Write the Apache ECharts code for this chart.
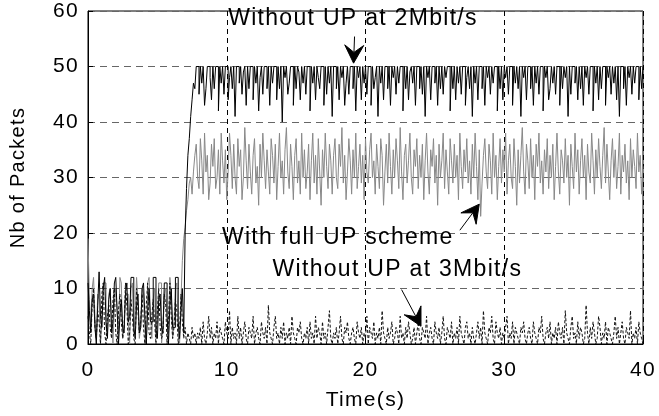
<!DOCTYPE html>
<html>
<head>
<meta charset="utf-8">
<script src="https://cdn.jsdelivr.net/npm/echarts@6/dist/echarts.min.js"></script>
<style>
  html, body { margin: 0; padding: 0; background: #fff; }
  #chart { width: 659px; height: 416px; }
</style>
</head>
<body>
<div id="chart"></div>
<script>
// Sampling period of the traces (s)
const dt = 0.1;

// Queue occupancy, without UP at 2 Mbit/s
const noUp2M = [
  11, 6, 2, 8, 9, 3, 0, 7, 13, 5, 3, 10, 12, 4, 1, 8, 10, 2, 4, 11,
  12, 6, 0, 5, 8, 3, 2, 9, 11, 4, 5, 12, 12, 3, 1, 7, 9, 2, 3, 10,
  11, 5, 0, 6, 10, 4, 4, 12, 12, 2, 1, 8, 9, 3, 2, 11, 11, 5, 0, 7,
  10, 3, 3, 12, 12, 4, 1, 6, 10, 2, 20, 28, 34, 37, 41, 44, 47, 46,
  50, 50, 45, 50, 47, 50, 43, 46, 50, 50, 48, 44, 50, 46, 50, 50, 42, 50, 47, 50,
  45, 50, 50, 44, 48, 50, 46, 50, 41, 50, 50, 47, 50, 45, 49, 50, 43, 50, 46, 50,
  50, 44, 50, 47, 50, 42, 48, 50, 45, 50, 50, 46, 50, 43, 50, 47, 50, 50, 44, 50,
  46, 50, 40, 50, 48, 50, 45, 47, 50, 50, 43, 50, 46, 50, 49, 44, 50, 47, 50, 45,
  50, 50, 42, 50, 47, 50, 44, 50, 48, 46, 50, 50, 43, 50, 45, 50, 47, 50, 41, 50,
  50, 46, 50, 44, 50, 48, 50, 43, 47, 50, 45, 50, 50, 46, 50, 42, 50, 48, 50, 44,
  50, 47, 50, 45, 50, 50, 43, 50, 46, 48, 50, 41, 50, 47, 50, 44, 50, 50, 46, 50,
  43, 50, 48, 50, 45, 50, 47, 50, 50, 42, 50, 46, 50, 44, 49, 50, 47, 50, 43, 50,
  50, 46, 50, 45, 50, 41, 50, 48, 50, 44, 50, 50, 47, 50, 43, 50, 46, 50, 45, 50,
  48, 50, 50, 42, 50, 46, 50, 44, 50, 47, 50, 45, 50, 50, 43, 48, 50, 46, 50, 41,
  50, 47, 50, 44, 50, 50, 46, 50, 43, 50, 48, 50, 45, 50, 47, 50, 50, 42, 50, 46,
  50, 44, 50, 48, 50, 45, 50, 50, 43, 50, 47, 50, 46, 50, 41, 50, 48, 50, 44, 50,
  50, 46, 50, 43, 50, 47, 50, 45, 50, 50, 42, 50, 48, 50, 44, 46, 50, 47, 50, 45,
  50, 50, 43, 50, 46, 50, 48, 50, 41, 50, 45, 50, 50, 47, 50, 44, 50, 46, 50, 43,
  50, 48, 50, 45, 50, 50, 42, 50, 47, 50, 44, 50, 46, 50, 50, 43, 50, 48, 50, 45,
  50, 47, 50, 44, 50, 41, 50, 50, 46, 50, 43, 50, 48, 50, 45, 50, 47, 50, 50, 44,
  50, 46, 50
];

// Queue occupancy, with the full UP scheme
const fullUp = [
  19, 8, 3, 10, 12, 5, 1, 9, 8, 0, 4, 11, 11, 3, 2, 9, 10, 4, 0, 7,
  10, 6, 2, 12, 11, 1, 3, 9, 9, 4, 0, 10, 11, 2, 5, 12, 8, 1, 3, 10,
  9, 3, 0, 11, 12, 6, 1, 8, 10, 2, 4, 11, 11, 0, 3, 9, 10, 5, 2, 12,
  9, 1, 4, 10, 11, 3, 0, 8, 15, 19, 21, 24, 26, 29, 30, 27, 31, 34,
  36, 30, 28, 37, 33, 27, 38, 31, 34, 26, 29, 36, 32, 37, 28, 30, 35, 27, 38, 33,
  29, 35, 26, 31, 38, 34, 28, 36, 30, 27, 37, 32, 35, 26, 30, 39, 33, 28, 36, 31,
  27, 34, 37, 29, 32, 25, 36, 30, 38, 33, 28, 35, 31, 27, 37, 34, 29, 36, 26, 32,
  38, 30, 33, 27, 35, 39, 31, 28, 36, 32, 26, 34, 37, 29, 33, 27, 38, 30, 35, 28,
  31, 36, 26, 33, 38, 29, 34, 27, 37, 31, 25, 35, 30, 38, 32, 28, 36, 33, 27, 34,
  37, 30, 28, 36, 32, 39, 29, 34, 26, 31, 37, 33, 27, 35, 30, 38, 28, 32, 36, 29,
  34, 26, 37, 31, 29, 35, 38, 30, 33, 27, 36, 32, 28, 37, 34, 25, 31, 36, 29, 38,
  32, 27, 35, 30, 37, 33, 28, 39, 31, 26, 34, 36, 29, 33, 38, 30, 27, 35, 32, 37,
  28, 34, 30, 36, 26, 33, 38, 31, 27, 35, 32, 37, 29, 34, 25, 36, 30, 33, 38, 28,
  35, 31, 27, 37, 33, 29, 36, 30, 34, 26, 38, 32, 28, 35, 31, 37, 29, 33, 27, 36,
  30, 38, 32, 26, 35, 23, 29, 34, 37, 31, 28, 36, 33, 27, 38, 30, 34, 26, 32, 37,
  29, 35, 31, 38, 27, 33, 36, 30, 28, 37, 32, 25, 35, 29, 34, 39, 31, 27, 36, 33,
  28, 37, 30, 34, 26, 36, 32, 38, 29, 33, 27, 35, 31, 37, 28, 34, 30, 36, 26, 32,
  38, 31, 27, 35, 33, 29, 37, 30, 34, 25, 36, 32, 28, 38, 31, 35, 27, 33, 37, 30,
  34, 26, 36, 31, 29, 38, 33, 27, 35, 30, 37, 32, 28, 34, 39, 29, 36, 31, 26, 33,
  37, 30, 35, 28, 32, 38, 27, 34, 31, 36, 29, 33, 26, 37, 30, 35, 32, 28, 38, 31,
  34, 27, 32
];

// Queue occupancy, without UP at 3 Mbit/s
const noUp3M = [
  5, 2, 0, 7, 10, 3, 1, 6, 4, 0, 9, 11, 2, 0, 5, 7, 3, 1, 8, 10,
  2, 0, 6, 9, 4, 1, 3, 11, 7, 0, 2, 8, 5, 1, 0, 10, 6, 2, 4, 9,
  3, 0, 7, 11, 2, 1, 5, 8, 4, 0, 6, 10, 3, 1, 2, 9, 7, 0, 4, 11,
  5, 1, 3, 8, 6, 0, 2, 9, 4, 1, 3, 0, 2, 1, 0, 3, 1, 2,
  0, 2, 1, 3, 0, 4, 1, 0, 2, 5, 1, 3, 0, 2, 1, 4, 0, 3, 2, 1,
  0, 4, 2, 1, 6, 0, 3, 1, 2, 0, 5, 1, 3, 0, 2, 4, 1, 0, 3, 2,
  1, 5, 0, 2, 3, 1, 0, 4, 2, 1, 3, 0, 7, 2, 1, 0, 3, 5, 1, 2,
  0, 3, 1, 4, 0, 2, 1, 3, 0, 5, 2, 1, 0, 3, 2, 4, 1, 0, 2, 1,
  3, 0, 4, 1, 2, 0, 5, 1, 3, 2, 0, 4, 1, 2, 0, 3, 6, 1, 0, 2,
  1, 3, 0, 2, 5, 1, 0, 3, 2, 4, 1, 0, 2, 3, 1, 0, 4, 2, 1, 3,
  0, 2, 1, 5, 0, 3, 2, 1, 4, 0, 2, 1, 3, 0, 6, 2, 1, 0, 3, 1,
  2, 4, 0, 1, 3, 2, 0, 5, 1, 2, 0, 3, 1, 4, 2, 0, 1, 3, 0, 2,
  4, 1, 0, 3, 2, 1, 5, 0, 2, 3, 1, 0, 4, 2, 1, 3, 0, 2, 5, 1,
  0, 3, 2, 1, 4, 0, 2, 1, 3, 0, 5, 2, 1, 0, 3, 4, 1, 2, 0, 3,
  1, 0, 2, 4, 1, 3, 0, 6, 2, 1, 0, 3, 2, 5, 1, 0, 4, 2, 1, 3,
  0, 2, 1, 3, 5, 0, 2, 1, 4, 0, 3, 2, 1, 0, 3, 2, 4, 1, 0, 2,
  3, 1, 0, 4, 2, 1, 0, 3, 2, 5, 1, 0, 2, 3, 1, 4, 0, 2, 1, 3,
  0, 4, 2, 1, 3, 0, 6, 2, 1, 0, 3, 5, 1, 2, 0, 4, 1, 3, 2, 0,
  1, 7, 2, 0, 3, 1, 4, 2, 0, 1, 5, 3, 0, 2, 1, 4, 0, 3, 2, 1,
  0, 2, 5, 1, 3, 0, 2, 4, 1, 0, 3, 2, 1, 6, 0, 2, 1, 3, 0, 4,
  2, 1, 0
];

// Axis ranges and ticks
const xTicks = [0, 10, 20, 30, 40];
const yTicks = [0, 10, 20, 30, 40, 50, 60];

// Annotation labels with their text anchor and arrow (tail -> tip), in data units
const notes = [
  { text: 'Without UP at 2Mbit/s', at: [10.1, 56.6], tail: [19.21, 55.4], tip: [19.14, 50.6] },
  { text: 'With full UP scheme',   at: [9.65, 17.0], tail: [26.8, 20.5],  tip: [28.2, 25.2] },
  { text: 'Without UP at 3Mbit/s', at: [13.3, 11.4], tail: [22.6, 9.8],   tip: [24.0, 3.2] }
];

const toPairs = arr => arr.map((v, i) => [+(i * dt).toFixed(2), v]);

const FONT = '"Liberation Sans", Arial, Helvetica, sans-serif';

// Loose character spacing for all drawn text
const baseFillText = CanvasRenderingContext2D.prototype.fillText;
CanvasRenderingContext2D.prototype.fillText = function () {
  if ('letterSpacing' in this) this.letterSpacing = '1.3px';
  return baseFillText.apply(this, arguments);
};

const chart = echarts.init(document.getElementById('chart'), null, { renderer: 'canvas' });

const option = {
  animation: false,
  backgroundColor: '#fff',
  grid: {
    left: 85, right: 16, top: 11, bottom: 62,
    show: true, borderColor: '#000', borderWidth: 1, backgroundColor: 'transparent'
  },
  xAxis: {
    type: 'value',
    min: xTicks[0], max: xTicks[xTicks.length - 1], interval: 10,
    name: 'Time(s)', nameLocation: 'middle', nameGap: 46,
    nameTextStyle: { color: '#000', fontSize: 21, fontFamily: FONT },
    axisLine: { show: true, lineStyle: { color: '#000', width: 1 } },
    axisTick: { show: true, inside: true, length: 5, lineStyle: { color: '#000' } },
    axisLabel: { color: '#000', fontSize: 21, fontFamily: FONT, margin: 16 },
    splitLine: { show: true, lineStyle: { color: '#000', type: [5, 4], width: 1 } }
  },
  yAxis: {
    type: 'value',
    min: yTicks[0], max: yTicks[yTicks.length - 1], interval: 10,
    name: 'Nb of Packets', nameLocation: 'middle', nameGap: 60,
    nameTextStyle: { color: '#000', fontSize: 20, fontFamily: FONT },
    axisLine: { show: true, lineStyle: { color: '#000', width: 1 } },
    axisTick: { show: true, inside: true, length: 5, lineStyle: { color: '#000' } },
    axisLabel: { color: '#000', fontSize: 21, fontFamily: FONT, margin: 9 },
    splitLine: { show: true, lineStyle: { color: '#666', type: [7, 5], width: 1 } }
  },
  series: [
    {
      name: 'With full UP scheme', type: 'line', data: toPairs(fullUp), step: 'end',
      showSymbol: false, symbol: 'none', z: 2,
      lineStyle: { color: '#888', width: 1 }
    },
    {
      name: 'Without UP at 2Mbit/s', type: 'line', data: toPairs(noUp2M), step: 'end',
      showSymbol: false, symbol: 'none', z: 3,
      lineStyle: { color: '#000', width: 1 }
    },
    {
      name: 'Without UP at 3Mbit/s', type: 'line', data: toPairs(noUp3M), step: 'end',
      showSymbol: false, symbol: 'none', z: 4,
      lineStyle: { color: '#111', width: 1, type: [3, 2] }
    }
  ]
};

chart.setOption(option);

// Annotation texts and filled arrows, placed from data coordinates
function arrowHead(tail, tip, len, half) {
  const dx = tip[0] - tail[0], dy = tip[1] - tail[1];
  const d = Math.hypot(dx, dy) || 1;
  const ux = dx / d, uy = dy / d;
  const bx = tip[0] - ux * len, by = tip[1] - uy * len;
  const nx = -uy, ny = ux;
  const mx = tip[0] - ux * len * 0.6, my = tip[1] - uy * len * 0.6;
  return [tip, [bx + nx * half, by + ny * half], [mx, my], [bx - nx * half, by - ny * half]];
}

const graphics = [];
notes.forEach(n => {
  const p = chart.convertToPixel({ gridIndex: 0 }, n.at);
  const a = chart.convertToPixel({ gridIndex: 0 }, n.tail);
  const b = chart.convertToPixel({ gridIndex: 0 }, n.tip);
  graphics.push({
    type: 'text', x: p[0], y: p[1], z: 100,
    style: { text: n.text, fill: '#000', font: '23px ' + FONT, textAlign: 'left', textVerticalAlign: 'bottom' }
  });
  const head = arrowHead(a, b, 18, 9.5);
  graphics.push({
    type: 'line', z: 100,
    shape: { x1: a[0], y1: a[1], x2: head[2][0], y2: head[2][1] },
    style: { stroke: '#000', lineWidth: 1 }
  });
  graphics.push({
    type: 'polygon', z: 100,
    shape: { points: head },
    style: { fill: '#000', stroke: '#000', lineWidth: 1 }
  });
});

chart.setOption({ graphic: graphics });
</script>
</body>
</html>
